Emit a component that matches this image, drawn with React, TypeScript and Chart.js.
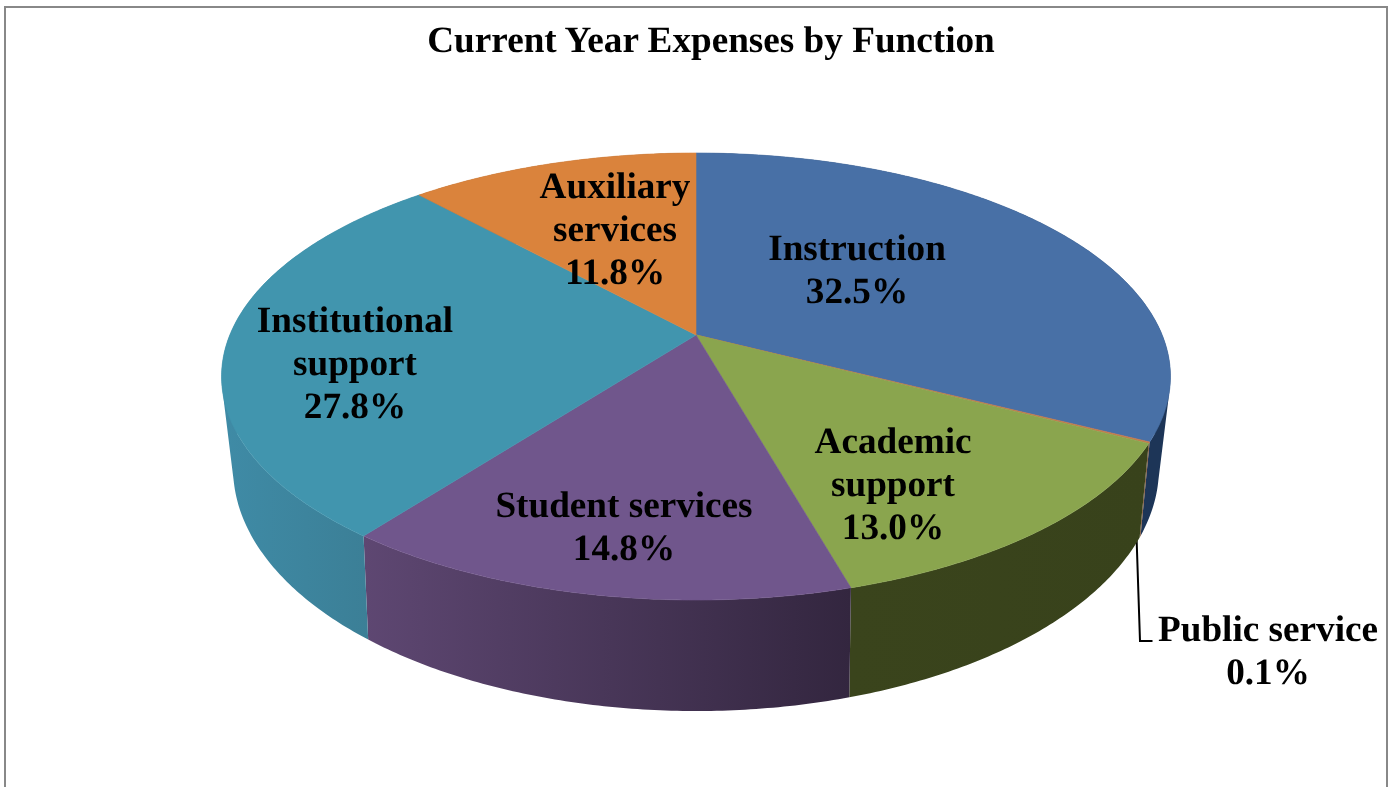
import React, { useEffect, useRef } from "react";
import { Chart, registerables } from "chart.js";

Chart.register(...registerables);

// Expense shares by function, in drawing order clockwise from twelve o'clock
const functionNames = ["Instruction", "Public service", "Academic support", "Student services", "Institutional support", "Auxiliary services"];
const expenseShares = [32.5, 0.1, 13.0, 14.8, 27.8, 11.8];
const shareLabels = ["32.5%", "0.1%", "13.0%", "14.8%", "27.8%", "11.8%"];

const topColors = ["#4870a6", "#c8794a", "#8aa54e", "#70568c", "#4195ae", "#da833c"];
const wallLeftColors = ["#1d3557", "#7a4a2a", "#3a441c", "#5e4772", "#3f8ba6", "#8a5326"];
const wallRightColors = ["#1d3557", "#7a4a2a", "#38421b", "#33263f", "#3a7a90", "#8a5326"];

const labelLines = [["Instruction"], ["Public service"], ["Academic", "support"], ["Student services"], ["Institutional", "support"], ["Auxiliary", "services"]];
const labelCentres = [
  { x: 857, y: 250 },
  { x: 1268, y: 631 },
  { x: 893, y: 443 },
  { x: 624, y: 507 },
  { x: 355, y: 322 },
  { x: 615, y: 188 },
];
const lineHeight = 43;
const labelFont = "bold 37.2px 'Liberation Serif', 'Times New Roman', serif";

// Perspective projections of the pie's upper and lower rims
const upperRim = { cx: 696, cy: 335, a: 466.2, b: 215.8, k: 0.1857 };
const lowerRim = { cx: 696, cy: 419.4, a: 453.6, b: 233.3, k: 0.2 };

type Rim = typeof upperRim;
type Pt = { x: number; y: number };

function project(rim: Rim, angle: number): Pt {
  // Chart.js angles start at -PI/2, i.e. twelve o'clock
  const t = angle + Math.PI / 2;
  const x = Math.sin(t);
  const y = Math.cos(t);
  const w = 1 + rim.k * y;
  return { x: rim.cx + (rim.a * x) / w, y: rim.cy - (rim.b * y) / w };
}

function rimSamples(start: number, end: number) {
  const steps = Math.max(2, Math.ceil((end - start) / 0.01));
  const out: number[] = [];
  for (let i = 0; i <= steps; i++) out.push(start + ((end - start) * i) / steps);
  return out;
}

function signedArea(points: Pt[]) {
  let sum = 0;
  points.forEach((p, i) => {
    const q = points[(i + 1) % points.length];
    sum += p.x * q.y - q.x * p.y;
  });
  return sum;
}

const perspectivePie = {
  id: "perspectivePie",
  beforeDraw(chart: Chart) {
    const { ctx, width, height } = chart;
    // Unhinted glyphs, kept for the title and the labels alike
    (ctx as any).textRendering = "geometricPrecision";
    ctx.save();
    ctx.fillStyle = "#ffffff";
    ctx.fillRect(0, 0, width, height);
    ctx.strokeStyle = "#888888";
    ctx.lineWidth = 2;
    ctx.beginPath();
    ctx.moveTo(5, height);
    ctx.lineTo(5, 7);
    ctx.lineTo(1387, 7);
    ctx.lineTo(1387, height);
    ctx.stroke();
    ctx.restore();
  },
  beforeDatasetsDraw(chart: Chart) {
    const { ctx } = chart;
    const arcs = chart.getDatasetMeta(0).data as any[];
    ctx.save();

    // Leader for the narrow slice, tucked behind the wall
    ctx.strokeStyle = "#000000";
    ctx.lineWidth = 2;
    ctx.beginPath();
    ctx.moveTo(1136.5, 536);
    ctx.lineTo(1140, 641);
    ctx.lineTo(1152.5, 641);
    ctx.stroke();

    // Outer walls: same-winding quads in one path, so their union fills without seams
    arcs.forEach((arc, i) => {
      const samples = rimSamples(arc.startAngle, arc.endAngle);
      const upper = samples.map((s) => project(upperRim, s));
      const lower = samples.map((s) => project(lowerRim, s));
      const xs = [...upper, ...lower].map((p) => p.x);
      const grad = ctx.createLinearGradient(Math.min(...xs), 0, Math.max(...xs), 0);
      grad.addColorStop(0, wallLeftColors[i]);
      grad.addColorStop(1, wallRightColors[i]);
      ctx.fillStyle = grad;
      ctx.beginPath();
      for (let j = 0; j < samples.length - 1; j++) {
        const quad = [upper[j], upper[j + 1], lower[j + 1], lower[j]];
        if (signedArea(quad) < 0) quad.reverse();
        quad.forEach((p, n) => (n ? ctx.lineTo(p.x, p.y) : ctx.moveTo(p.x, p.y)));
        ctx.closePath();
      }
      ctx.fill();
    });

    // Top faces
    arcs.forEach((arc) => {
      const colour = arc.options.backgroundColor;
      ctx.fillStyle = colour;
      ctx.strokeStyle = colour;
      ctx.lineWidth = 0.6;
      ctx.beginPath();
      ctx.moveTo(upperRim.cx, upperRim.cy);
      rimSamples(arc.startAngle, arc.endAngle).forEach((s) => {
        const p = project(upperRim, s);
        ctx.lineTo(p.x, p.y);
      });
      ctx.closePath();
      ctx.fill();
      ctx.stroke();
    });

    // Slice labels: name lines followed by the share
    ctx.fillStyle = "#000000";
    ctx.font = labelFont;
    ctx.textAlign = "center";
    ctx.textBaseline = "middle";
    labelLines.forEach((lines, i) => {
      [...lines, shareLabels[i]].forEach((line, j) => {
        ctx.fillText(line, labelCentres[i].x, labelCentres[i].y + j * lineHeight);
      });
    });

    ctx.restore();
    return false;
  },
};

export default function App() {
  const canvasRef = useRef<HTMLCanvasElement | null>(null);

  useEffect(() => {
    const chart = new Chart(canvasRef.current as HTMLCanvasElement, {
      type: "pie",
      data: {
        labels: functionNames,
        datasets: [{ data: expenseShares, backgroundColor: topColors, borderWidth: 0 }],
      },
      options: {
        responsive: false,
        animation: false,
        layout: { padding: { left: 30 } },
        plugins: {
          legend: { display: false },
          tooltip: { enabled: false },
          title: {
            display: true,
            text: "Current Year Expenses by Function",
            color: "#000000",
            font: { family: "'Liberation Serif', 'Times New Roman', serif", size: 37.2, weight: "bold" },
            padding: { top: 20, bottom: 10 },
          },
        },
      },
      plugins: [perspectivePie],
    } as any);
    return () => chart.destroy();
  }, []);

  return (
    <div style={{ position: "absolute", left: 0, top: 0 }}>
      <canvas ref={canvasRef} width={1392} height={787} style={{ display: "block" }} />
    </div>
  );
}
